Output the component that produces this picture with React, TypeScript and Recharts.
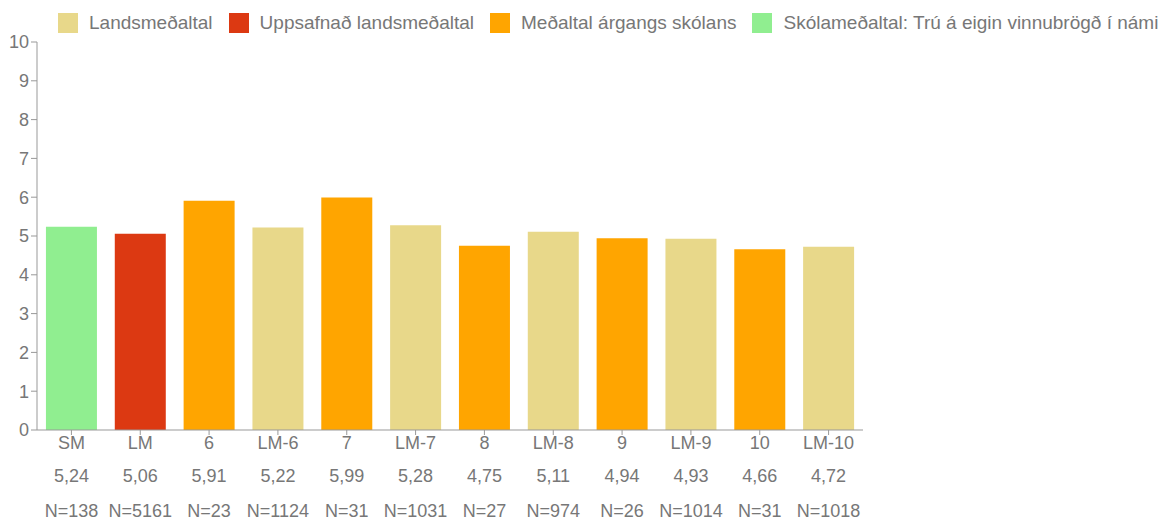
import { BarChart, Bar, XAxis, YAxis, Cell } from "recharts";

const categories = ["SM", "LM", "6", "LM-6", "7", "LM-7", "8", "LM-8", "9", "LM-9", "10", "LM-10"];
const values = [5.24, 5.06, 5.91, 5.22, 5.99, 5.28, 4.75, 5.11, 4.94, 4.93, 4.66, 4.72];
const counts = [138, 5161, 23, 1124, 31, 1031, 27, 974, 26, 1014, 31, 1018];
// which legend group each bar belongs to
const groups = [3, 1, 2, 0, 2, 0, 2, 0, 2, 0, 2, 0];
const legendNames = [
  "Landsmeðaltal",
  "Uppsafnað landsmeðaltal",
  "Meðaltal árgangs skólans",
  "Skólameðaltal: Trú á eigin vinnubrögð í námi",
];
const yTicks = [0, 1, 2, 3, 4, 5, 6, 7, 8, 9, 10];

const colors = ["#E8D88A", "#DC3912", "#FFA500", "#90EE90"];
const FONT = "'Liberation Sans', Arial, Helvetica, sans-serif";
const TEXT = "#777777";

const data = categories.map((name, i) => ({
  name,
  value: values[i],
  label: values[i].toFixed(2).replace(".", ","),
  n: "N=" + counts[i],
  group: groups[i],
}));

const XTick = (props: any) => {
  const { x, y, index } = props;
  const d = data[index];
  if (!d) return null;
  return (
    <g transform={`translate(${x},${y})`}>
      <text textAnchor="middle" fill={TEXT} fontSize={18} fontFamily={FONT}>
        <tspan x={0} dy={12}>{d.name}</tspan>
        <tspan x={0} dy={33}>{d.label}</tspan>
        <tspan x={0} dy={35}>{d.n}</tspan>
      </text>
    </g>
  );
};

const LegendRow = () => (
  <div
    style={{
      position: "absolute",
      top: 4,
      left: 50,
      display: "flex",
      alignItems: "center",
      fontFamily: FONT,
      fontSize: 19,
      color: TEXT,
      whiteSpace: "nowrap",
    }}
  >
    {legendNames.map((name, i) => (
      <div key={name} style={{ display: "flex", alignItems: "center", marginRight: 16 }}>
        <span
          style={{ width: 20, height: 20, background: colors[i], marginRight: 11, display: "inline-block" }}
        />
        <span>{name}</span>
      </div>
    ))}
  </div>
);

export default function App() {
  return (
    <div style={{ position: "relative", width: 1158, height: 515 }}>
      <LegendRow />
      <BarChart
        width={1158}
        height={515}
        data={data}
        margin={{ top: 34, right: 303, left: 0, bottom: 0 }}
        barCategoryGap="13%"
      >
        <XAxis
          dataKey="name"
          interval={0}
          height={93}
          tick={<XTick />}
          tickSize={5}
          stroke="#999"
          axisLine={{ stroke: "#999" }}
        />
        <YAxis
          width={29}
          domain={[0, 10]}
          ticks={yTicks}
          interval={0}
          tickSize={6}
          stroke="#999"
          tick={{ fill: TEXT, fontSize: 18, fontFamily: FONT }}
        />
        <Bar dataKey="value" isAnimationActive={false}>
          {data.map((d) => (
            <Cell key={d.name} fill={colors[d.group]} />
          ))}
        </Bar>
      </BarChart>
    </div>
  );
}
